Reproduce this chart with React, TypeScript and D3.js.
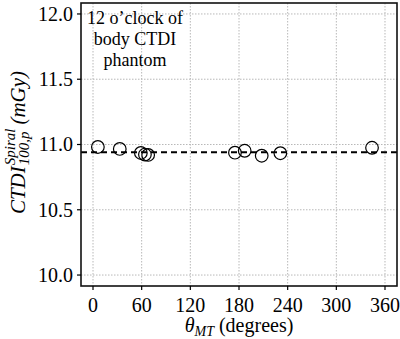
import React, { useEffect, useRef, useState } from "react";
import * as d3 from "d3";

const angles = [6, 33, 59, 64, 68, 175, 187, 208, 231, 344];
const ctdi = [10.981, 10.966, 10.935, 10.923, 10.92, 10.937, 10.952, 10.914, 10.933, 10.975];
const meanValue = 10.94;
const xTicks = [0, 60, 120, 180, 240, 300, 360];
const yTicks = [10.0, 10.5, 11.0, 11.5, 12.0];
const noteLines = ["12 o\u2019clock of", "body CTDI", "phantom"];

const W = 400;
const H = 339;
const FONT = '"Liberation Serif"';

const left = 81, right = 397, top = 3, bottom = 286;
const x = d3.scaleLinear().domain([-14.8, 374.8]).range([left, right]);
const y = d3.scaleLinear().domain([9.916, 12.084]).range([bottom, top]);
const fmtY = d3.format(".1f");

const serif: React.CSSProperties = { fontFamily: FONT };
const serifItalic: React.CSSProperties = { fontFamily: FONT, fontStyle: "italic" };

function YLabel() {
  const mainRef = useRef<SVGTextElement | null>(null);
  const supRef = useRef<SVGTextElement | null>(null);
  const subRef = useRef<SVGTextElement | null>(null);
  const unitRef = useRef<SVGTextElement | null>(null);
  const [w, setW] = useState({ main: 45, script: 38, unit: 50 });
  useEffect(() => {
    const m = mainRef.current!.getComputedTextLength();
    const s = Math.max(supRef.current!.getComputedTextLength(), subRef.current!.getComputedTextLength());
    const u = unitRef.current!.getComputedTextLength();
    setW({ main: m, script: s, unit: u });
  }, []);
  const total = w.main + 1 + w.script + 4 + w.unit;
  const x0 = -total / 2;
  return (
    <g transform={`translate(25,${(top + bottom) / 2 - 2}) rotate(-90)`}>
      <text ref={mainRef} x={x0} y={0} fontSize={21} style={serifItalic} fill="#000">CTDI</text>
      <text ref={supRef} x={x0 + w.main + 1} y={-10} fontSize={15} style={serifItalic} fill="#000">Spiral</text>
      <text ref={subRef} x={x0 + w.main + 1} y={4} fontSize={15} style={serifItalic} fill="#000">100,p</text>
      <text ref={unitRef} x={x0 + w.main + 1 + w.script + 4} y={0} fontSize={21} style={serifItalic} fill="#000">(mGy)</text>
    </g>
  );
}

export default function App() {
  const points = angles.map((a, i) => ({ a, v: ctdi[i] }));
  return (
    <svg
      width={W}
      height={H}
      viewBox={`0 0 ${W} ${H}`}
      style={{ position: "absolute", left: 0, top: 0, background: "#fff" }}
    >
      {/* grid */}
      {xTicks.map((t) => (
        <line key={`gx${t}`} x1={x(t)} x2={x(t)} y1={top} y2={bottom}
          stroke="#b8b8b8" strokeWidth={1} strokeDasharray="1.5,1.5" />
      ))}
      {yTicks.map((t) => (
        <line key={`gy${t}`} x1={left} x2={right} y1={y(t)} y2={y(t)}
          stroke="#b8b8b8" strokeWidth={1} strokeDasharray="1.5,1.5" />
      ))}

      {/* mean line */}
      <line x1={left} x2={right} y1={y(meanValue)} y2={y(meanValue)}
        stroke="#000" strokeWidth={2} strokeDasharray="6,4" />

      {/* points */}
      {points.map((d, i) => (
        <circle key={i} cx={x(d.a)} cy={y(d.v)} r={6.3} fill="none" stroke="#000" strokeWidth={1.2} />
      ))}

      {/* frame */}
      <rect x={left} y={top} width={right - left} height={bottom - top}
        fill="none" stroke="#111" strokeWidth={1.6} />

      {/* x ticks */}
      {xTicks.map((t) => (
        <g key={`xt${t}`} transform={`translate(${x(t)},${bottom})`}>
          <line y1={0} y2={4} stroke="#000" strokeWidth={1.2} />
          <text y={26} textAnchor="middle" fontSize={20} style={serif} fill="#000">{t}</text>
        </g>
      ))}

      {/* y ticks */}
      {yTicks.map((t) => (
        <g key={`yt${t}`} transform={`translate(${left},${y(t)})`}>
          <line x1={0} x2={-4} stroke="#000" strokeWidth={1.2} />
          <text x={-8} dy="0.34em" textAnchor="end" fontSize={20} style={serif} fill="#000">{fmtY(t)}</text>
        </g>
      ))}

      {/* annotation */}
      <text textAnchor="middle" fontSize={18} style={serif} fill="#000">
        {noteLines.map((line, i) => (
          <tspan key={i} x={135} y={24 + i * 21}>{line}</tspan>
        ))}
      </text>

      {/* x label */}
      <text x={(left + right) / 2} y={332} textAnchor="middle" fontSize={20} style={serif} fill="#000">
        <tspan style={{ fontStyle: "italic" }}>{"\u03B8"}</tspan>
        <tspan style={{ fontStyle: "italic" }} fontSize={14} dy={4}>MT</tspan>
        <tspan dy={-4}>{" (degrees)"}</tspan>
      </text>

      <YLabel />
    </svg>
  );
}
